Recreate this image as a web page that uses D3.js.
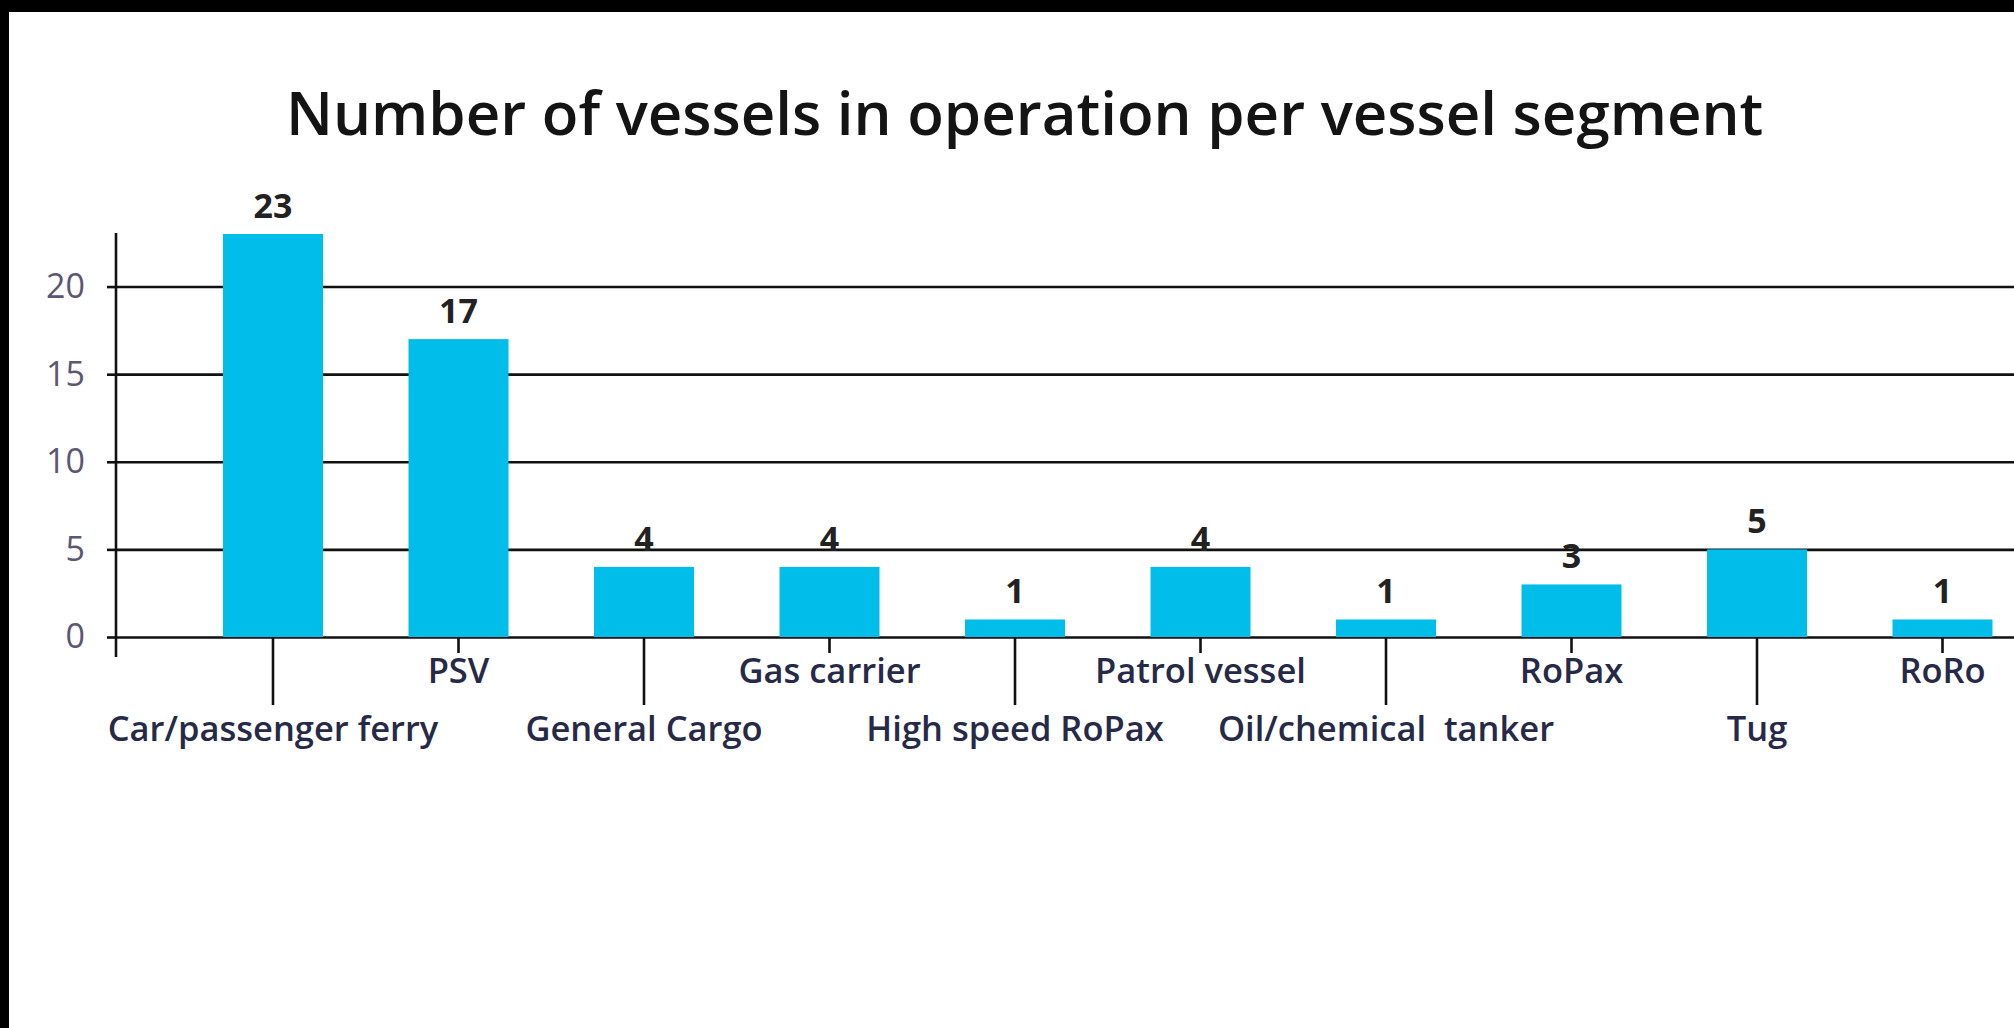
<!DOCTYPE html>
<html>
<head>
<meta charset="utf-8">
<script src="https://cdn.jsdelivr.net/npm/d3@7"></script>
<style>
  html, body { margin: 0; padding: 0; background: #000; }
  svg { display: block; }
  .ylab text { font-family: 'Open Sans', sans-serif; font-size: 34px; fill: #5c5672; }
  .xlab text { font-family: 'Open Sans', sans-serif; font-weight: 600; font-size: 34.5px; fill: #262a48; white-space: pre; }
  .val { font-family: 'Open Sans', sans-serif; font-weight: 700; font-size: 34px; fill: #222; }
</style>
</head>
<body>
<svg id="chart"></svg>
<script>
const categories = ['Car/passenger ferry', 'PSV', 'General Cargo', 'Gas carrier', 'High speed RoPax',
  'Patrol vessel', 'Oil/chemical  tanker', 'RoPax', 'Tug', 'RoRo'];
const vessels = [23, 17, 4, 4, 1, 4, 1, 3, 5, 1];
const yTicks = [0, 5, 10, 15, 20];
const title = 'Number of vessels in operation per vessel segment';

const W = 2014;
const H = 1028;
const axisX = 116;
const barColor = '#00bdea';

const svg = d3.select('#chart').attr('width', W).attr('height', H);
svg.append('rect').attr('x', 9).attr('y', 12).attr('width', W - 9).attr('height', H - 12).attr('fill', '#fff');

svg.append('text')
  .attr('x', 286).attr('y', 135)
  .style('font-family', "'Open Sans', sans-serif")
  .style('font-size', '60px')
  .style('font-weight', 600)
  .attr('fill', '#141414')
  .text(title);

const y = d3.scaleLinear().domain([0, 23]).range([637, 234]);
const x = d3.scaleBand().domain(categories).range([180.25, 2035.25])
  .paddingInner(0.461).paddingOuter(0.2305);

// gridlines behind the bars
svg.append('g')
  .attr('transform', `translate(${axisX},0)`)
  .call(d3.axisLeft(y).tickValues(yTicks).tickSize(-(W - axisX)).tickFormat(''))
  .call((g) => g.select('.domain').remove())
  .call((g) => g.selectAll('.tick line').attr('stroke', '#111').attr('stroke-width', 2.6));

// x axis: alternating long / short ticks, labels on two rows
const xAxis = svg.append('g')
  .attr('class', 'xlab')
  .attr('transform', `translate(0,${y(0)})`)
  .call(d3.axisBottom(x).tickSize(0))
  .call((g) => g.select('.domain').remove());
xAxis.selectAll('.tick line')
  .attr('stroke', '#111').attr('stroke-width', 2.6)
  .attr('y2', (d, i) => (i % 2 ? 16 : 68));
xAxis.selectAll('.tick text')
  .attr('y', (d, i) => (i % 2 ? 46 : 104))
  .attr('dy', 0);

svg.append('g').selectAll('rect').data(vessels).join('rect')
  .attr('x', (d, i) => x(categories[i]))
  .attr('y', (d) => y(d))
  .attr('width', x.bandwidth())
  .attr('height', (d) => y(0) - y(d))
  .attr('fill', barColor);

svg.append('g').selectAll('text').data(vessels).join('text')
  .attr('class', 'val')
  .attr('x', (d, i) => x(categories[i]) + x.bandwidth() / 2)
  .attr('y', (d) => y(d) - 16)
  .attr('text-anchor', 'middle')
  .text((d) => d);

// y axis with labels
const yAxis = svg.append('g')
  .attr('class', 'ylab')
  .attr('transform', `translate(${axisX},0)`)
  .call(d3.axisLeft(y).tickValues(yTicks).tickSize(9).tickPadding(22));
yAxis.select('.domain').remove();
yAxis.selectAll('.tick line').attr('stroke', '#111').attr('stroke-width', 2.6);
yAxis.append('line')
  .attr('x1', 0).attr('x2', 0)
  .attr('y1', y(23) - 1).attr('y2', y(0) + 20)
  .attr('stroke', '#111').attr('stroke-width', 2.6);
</script>
</body>
</html>
